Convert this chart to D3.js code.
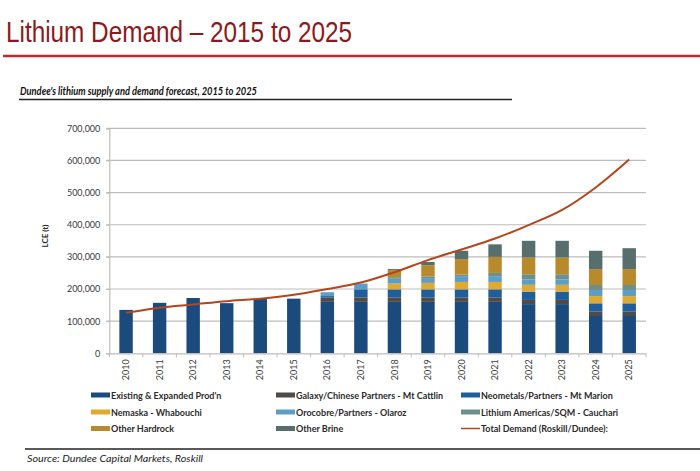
<!DOCTYPE html>
<html>
<head>
<meta charset="utf-8">
<script src="https://cdn.jsdelivr.net/npm/d3@7"></script>
<style>
  html, body { margin: 0; padding: 0; background: #fff; }
  svg { display: block; }
</style>
</head>
<body>
<svg id="chart" width="700" height="471"></svg>
<script>
// ---------- DATA ----------
const years = ["2010","2011","2012","2013","2014","2015","2016","2017","2018","2019","2020","2021","2022","2023","2024","2025"];
const existing        = [135000,157000,172000,156000,169000,170000,160000,160000,160000,160000,160000,160000,153000,153000,116000,116000];
const galaxy          = [0,0,0,0,0,0,13000,14000,14000,14000,14000,14000,13000,13000,13500,13500];
const neometals       = [0,0,0,0,0,0,5000,25000,25000,25000,25000,25000,26000,26000,26000,26000];
const nemaska         = [0,0,0,0,0,0,0,0,18000,20000,23000,23000,21000,21000,22500,22500];
const orocobre        = [0,0,0,0,0,0,12000,18000,15000,15000,18000,18000,17000,17000,19000,19000];
const lithiumAmericas = [0,0,0,0,0,0,0,0,5000,5000,5000,10000,16000,16000,15500,15500];
const otherHardrock   = [0,0,0,0,0,0,0,0,22000,35000,48000,50000,52000,52000,49500,49500];
const otherBrine      = [0,0,0,0,0,0,0,0,3000,10000,26000,39000,52000,52000,57000,65000];
const totalDemand     = [126000,142000,152000,162000,170000,182000,200000,220000,252000,290000,323000,357000,399000,446000,516000,603000];
const yTicks = [0,100000,200000,300000,400000,500000,600000,700000];

const seriesNames = ["Existing & Expanded Prod'n","Galaxy/Chinese Partners - Mt Cattlin","Neometals/Partners - Mt Marion","Nemaska - Whabouchi","Orocobre/Partners - Olaroz","Lithium Americas/SQM - Cauchari","Other Hardrock","Other Brine"];
const seriesValues = [existing, galaxy, neometals, nemaska, orocobre, lithiumAmericas, otherHardrock, otherBrine];
const seriesColors = ["#1B4B7C","#4F4B49","#1F5E9B","#E0A92F","#5E9EC4","#6F8F8C","#B98A2B","#566F6D"];
const demandName = "Total Demand (Roskill/Dundee):";
const demandColor = "#B3461C";

// ---------- LAYOUT ----------
const svg = d3.select("#chart");
const plotL = 109.3, plotR = 646, plotT = 128.3, plotB = 353.3;

const x = d3.scaleBand().domain(years).range([plotL, plotR]).paddingInner(0.6).paddingOuter(0.3);
const y = d3.scaleLinear().domain([0, 700000]).range([plotB, plotT]);

// Title
svg.append("text")
  .attr("x", 6).attr("y", 41.5)
  .attr("font-family", "Liberation Sans, Arial, sans-serif")
  .attr("font-size", 30)
  .attr("fill", "#8C1A1C")
  .attr("textLength", 346).attr("lengthAdjust", "spacingAndGlyphs")
  .text("Lithium Demand \u2013 2015 to 2025");
svg.append("line").attr("x1", 3).attr("x2", 700).attr("y1", 56).attr("y2", 56)
  .attr("stroke", "#C3262C").attr("stroke-width", 2.5);

// Subtitle
svg.append("text")
  .attr("x", 20).attr("y", 94.5)
  .attr("font-family", "Lato, sans-serif").attr("font-weight", "bold").attr("font-style", "italic")
  .attr("font-size", 11).attr("fill", "#111")
  .attr("textLength", 237).attr("lengthAdjust", "spacingAndGlyphs")
  .text("Dundee's lithium supply and demand forecast, 2015 to 2025");
svg.append("line").attr("x1", 19).attr("x2", 512).attr("y1", 99.5).attr("y2", 99.5)
  .attr("stroke", "#222").attr("stroke-width", 1.5);

// Gridlines
svg.append("g").selectAll("line").data(yTicks.filter(d => d > 0)).join("line")
  .attr("x1", plotL - 3).attr("x2", plotR)
  .attr("y1", d => y(d)).attr("y2", d => y(d))
  .attr("stroke", "#BDBDBD").attr("stroke-width", 1.2);

// Y axis
const yAxis = svg.append("g").attr("transform", `translate(${plotL},0)`)
  .call(d3.axisLeft(y).tickValues(yTicks).tickSize(3).tickPadding(6).tickFormat(d3.format(",")));
yAxis.select(".domain").attr("stroke", "#BDBDBD").attr("stroke-width", 1.2);
yAxis.selectAll(".tick line").attr("stroke", "#BDBDBD");
yAxis.selectAll("text").attr("font-family", "Lato, sans-serif").attr("font-size", 9).attr("fill", "#3a3a3a");

svg.append("text")
  .attr("transform", "translate(48,236) rotate(-90)")
  .attr("text-anchor", "middle")
  .attr("font-family", "Lato, sans-serif").attr("font-weight", "bold")
  .attr("font-size", 8).attr("fill", "#222")
  .text("LCE (t)");

// Stacked bars
const table = years.map((yr, i) => {
  const row = { year: yr };
  seriesNames.forEach((n, k) => row[n] = seriesValues[k][i]);
  return row;
});
const stacked = d3.stack().keys(seriesNames)(table);
svg.append("g").selectAll("g").data(stacked).join("g")
  .attr("fill", (d, k) => seriesColors[k])
  .selectAll("rect").data(d => d).join("rect")
  .attr("x", d => x(d.data.year))
  .attr("width", x.bandwidth())
  .attr("y", d => y(d[1]))
  .attr("height", d => Math.max(0, y(d[0]) - y(d[1])));

// X axis
const xAxis = svg.append("g").attr("transform", `translate(0,${plotB})`)
  .call(d3.axisBottom(x).tickSize(0).tickPadding(0));
xAxis.select(".domain").attr("stroke", "#BDBDBD").attr("stroke-width", 1.2);
xAxis.selectAll("text")
  .attr("transform", "rotate(-90)")
  .attr("text-anchor", "end")
  .attr("x", -6).attr("y", 0).attr("dy", "0.35em")
  .attr("font-family", "Lato, sans-serif").attr("font-size", 9).attr("fill", "#3a3a3a");
// boundary ticks between categories
svg.append("g").selectAll("line").data(d3.range(years.length + 1)).join("line")
  .attr("x1", i => plotL + i * x.step()).attr("x2", i => plotL + i * x.step())
  .attr("y1", plotB).attr("y2", plotB + 4)
  .attr("stroke", "#BDBDBD").attr("stroke-width", 1);

// Demand line
svg.append("path")
  .datum(totalDemand)
  .attr("fill", "none").attr("stroke", demandColor).attr("stroke-width", 2)
  .attr("d", d3.line().x((d, i) => x(years[i]) + x.bandwidth() / 2).y(d => y(d)).curve(d3.curveMonotoneX));

// Legend
const legendItems = seriesNames.map((n, k) => ({ name: n, color: seriesColors[k], type: "rect" }))
  .concat([{ name: demandName, color: demandColor, type: "line" }]);
const colX = [91, 276, 461];
const rowY = [395, 412, 428.5];
const leg = svg.append("g");
legendItems.forEach((it, i) => {
  const cx = colX[i % 3], cy = rowY[Math.floor(i / 3)];
  if (it.type === "rect") {
    leg.append("rect").attr("x", cx).attr("y", cy - 2.5).attr("width", 19).attr("height", 5).attr("fill", it.color);
  } else {
    leg.append("line").attr("x1", cx).attr("x2", cx + 19).attr("y1", cy).attr("y2", cy)
      .attr("stroke", it.color).attr("stroke-width", 1.5);
  }
  const t = leg.append("text").attr("x", cx + 20).attr("y", cy + 3.5)
    .attr("font-family", "Lato, sans-serif").attr("font-weight", "bold")
    .attr("font-size", 10).attr("fill", "#2b2b2b").text(it.name);
  const w = t.node().getComputedTextLength();
  t.attr("textLength", w * 0.9).attr("lengthAdjust", "spacingAndGlyphs");
});

// Source
svg.append("line").attr("x1", 25).attr("x2", 700).attr("y1", 449).attr("y2", 449)
  .attr("stroke", "#222").attr("stroke-width", 1.5);
svg.append("text")
  .attr("x", 27).attr("y", 462)
  .attr("font-family", "Lato, sans-serif").attr("font-style", "italic")
  .attr("font-size", 10).attr("fill", "#222")
  .attr("textLength", 176).attr("lengthAdjust", "spacingAndGlyphs")
  .text("Source: Dundee Capital Markets, Roskill");
</script>
</body>
</html>
